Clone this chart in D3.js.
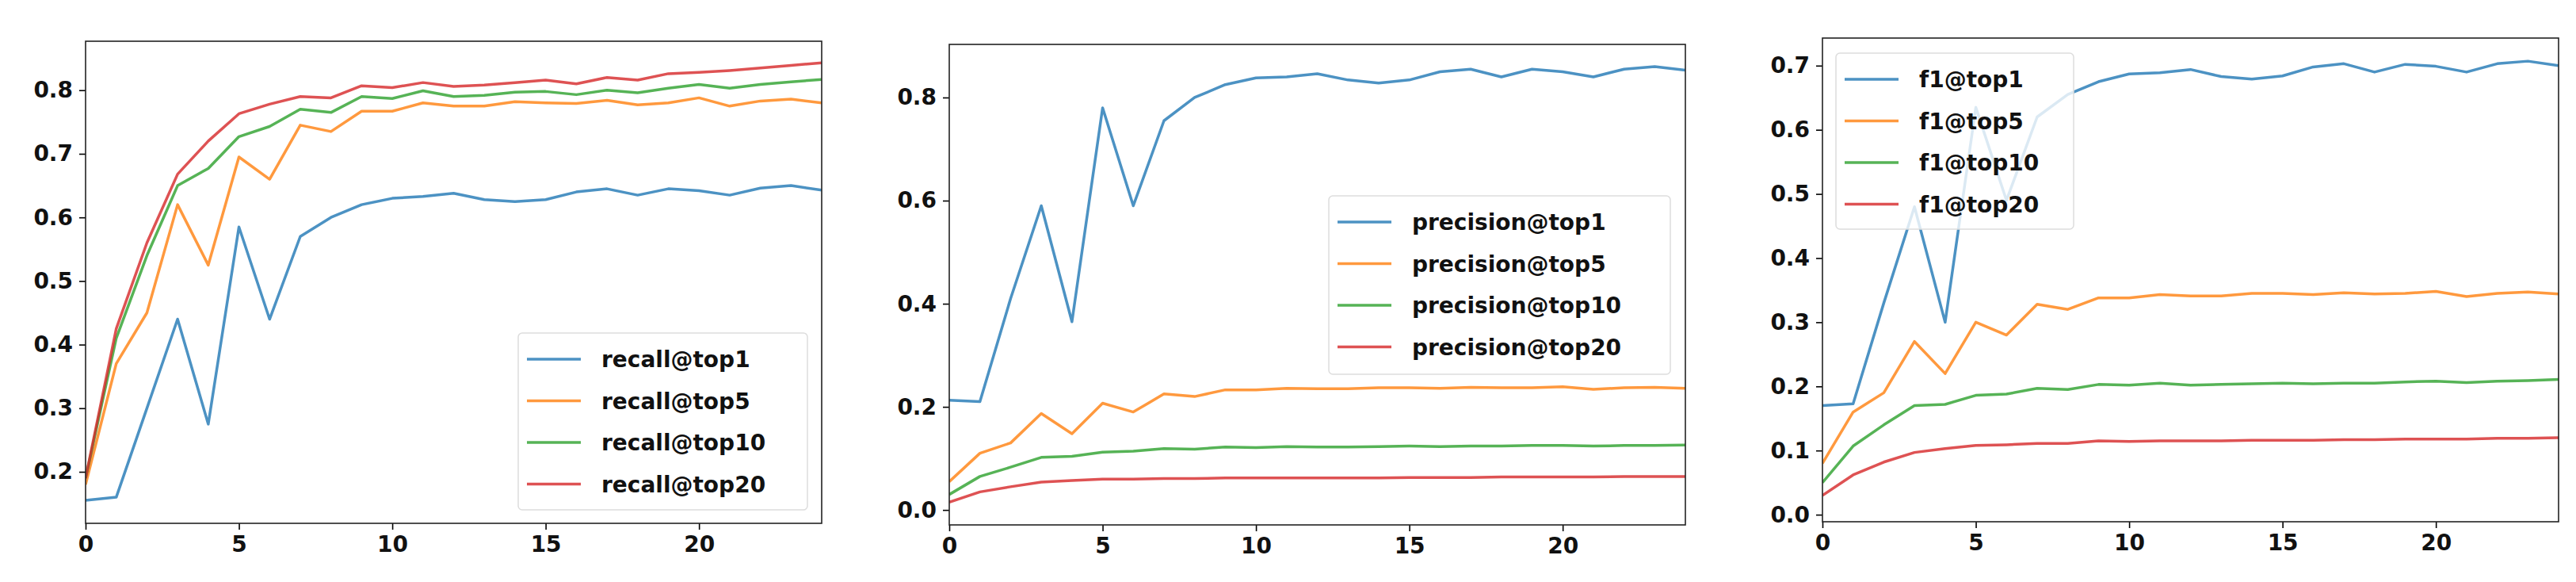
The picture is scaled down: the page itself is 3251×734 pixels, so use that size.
<!DOCTYPE html>
<html>
<head>
<meta charset="utf-8">
<script src="https://cdn.jsdelivr.net/npm/d3@7"></script>
<style>
  body { margin: 0; background: #fff; }
  text { font-family: "DejaVu Sans", sans-serif; font-weight: bold; }
</style>
</head>
<body>
<div id="chart"></div>
<script>
// epochs 0..24
var epochs = d3.range(25);
var seriesNames = ["top1", "top5", "top10", "top20"];
var colors = ["#1f77b4", "#ff7f0e", "#2ca02c", "#d62728"];

var recallTop1  = [0.155,0.16,0.30,0.44,0.275,0.585,0.44,0.57,0.60,0.62,0.63,0.633,0.638,0.628,0.625,0.628,0.64,0.645,0.635,0.645,0.642,0.635,0.646,0.65,0.643];
var recallTop5  = [0.18,0.37,0.45,0.62,0.525,0.695,0.66,0.745,0.735,0.767,0.767,0.78,0.775,0.775,0.782,0.78,0.779,0.784,0.777,0.78,0.788,0.775,0.783,0.786,0.78];
var recallTop10 = [0.19,0.41,0.54,0.65,0.677,0.727,0.743,0.77,0.765,0.79,0.787,0.799,0.79,0.792,0.797,0.798,0.793,0.8,0.796,0.803,0.809,0.803,0.809,0.813,0.817];
var recallTop20 = [0.19,0.425,0.56,0.668,0.72,0.763,0.778,0.79,0.788,0.807,0.804,0.812,0.806,0.808,0.812,0.816,0.81,0.82,0.816,0.826,0.828,0.831,0.835,0.839,0.843];

var precTop1  = [0.213,0.21,0.41,0.59,0.365,0.78,0.59,0.755,0.8,0.825,0.838,0.84,0.846,0.834,0.828,0.834,0.85,0.855,0.84,0.855,0.85,0.84,0.855,0.86,0.853];
var precTop5  = [0.055,0.11,0.13,0.187,0.148,0.207,0.19,0.225,0.22,0.233,0.233,0.236,0.235,0.235,0.237,0.237,0.236,0.238,0.237,0.237,0.239,0.234,0.237,0.238,0.236];
var precTop10 = [0.03,0.065,0.083,0.102,0.104,0.112,0.114,0.119,0.118,0.122,0.121,0.123,0.122,0.122,0.123,0.124,0.123,0.124,0.124,0.125,0.125,0.124,0.125,0.125,0.126];
var precTop20 = [0.015,0.035,0.045,0.054,0.057,0.06,0.06,0.061,0.061,0.062,0.062,0.062,0.062,0.062,0.062,0.063,0.063,0.063,0.064,0.064,0.064,0.064,0.065,0.065,0.065];

var f1Top1  = [0.17,0.173,0.33,0.48,0.30,0.635,0.49,0.62,0.655,0.675,0.687,0.689,0.694,0.683,0.679,0.684,0.698,0.703,0.69,0.702,0.699,0.69,0.703,0.707,0.70];
var f1Top5  = [0.08,0.16,0.19,0.27,0.22,0.30,0.28,0.328,0.32,0.338,0.338,0.343,0.341,0.341,0.345,0.345,0.343,0.346,0.344,0.345,0.348,0.34,0.345,0.347,0.344];
var f1Top10 = [0.05,0.107,0.14,0.17,0.172,0.186,0.188,0.197,0.195,0.203,0.202,0.205,0.202,0.203,0.204,0.205,0.204,0.205,0.205,0.207,0.208,0.206,0.208,0.209,0.211];
var f1Top20 = [0.03,0.062,0.082,0.097,0.103,0.108,0.109,0.111,0.111,0.115,0.114,0.115,0.115,0.115,0.116,0.116,0.116,0.117,0.117,0.118,0.118,0.118,0.119,0.119,0.12];

var xTicks = [0, 5, 10, 15, 20];

var W = 3251, H = 734;
var svg = d3.select("#chart").append("svg").attr("width", W).attr("height", H);

var panels = [
  {prefix: "recall", data: [recallTop1, recallTop5, recallTop10, recallTop20],
   x0: 108, x1: 1037, y0: 52, y1: 660, ydom: [0.119, 0.877], yticks: [0.2,0.3,0.4,0.5,0.6,0.7,0.8],
   fmt: d3.format(".1f"), legend: [654, 420, 365, 223]},
  {prefix: "precision", data: [precTop1, precTop5, precTop10, precTop20],
   x0: 1198, x1: 2127, y0: 56, y1: 662, ydom: [-0.029, 0.903], yticks: [0,0.2,0.4,0.6,0.8],
   fmt: d3.format(".1f"), legend: [1677, 247, 431, 225]},
  {prefix: "f1", data: [f1Top1, f1Top5, f1Top10, f1Top20],
   x0: 2300, x1: 3229, y0: 48, y1: 658, ydom: [-0.011, 0.743], yticks: [0,0.1,0.2,0.3,0.4,0.5,0.6,0.7],
   fmt: d3.format(".1f"), legend: [2317, 67, 300, 222]}
];

panels.forEach(function(p) {
  var x = d3.scaleLinear().domain([0, 24]).range([p.x0, p.x1]);
  var y = d3.scaleLinear().domain(p.ydom).range([p.y1, p.y0]);
  var g = svg.append("g");

  var line = d3.line().x(function(d, i) { return x(epochs[i]); }).y(function(d) { return y(d); });
  g.append("clipPath").attr("id", "clip-" + p.prefix)
    .append("rect").attr("x", p.x0).attr("y", p.y0).attr("width", p.x1 - p.x0).attr("height", p.y1 - p.y0);

  p.data.forEach(function(s, i) {
    g.append("path").datum(s)
      .attr("clip-path", "url(#clip-" + p.prefix + ")")
      .attr("d", line).attr("fill", "none")
      .attr("stroke", colors[i]).attr("stroke-opacity", 0.8)
      .attr("stroke-width", 3.5).attr("stroke-linejoin", "round");
  });

  var xa = g.append("g").attr("transform", "translate(0," + p.y1 + ")")
    .call(d3.axisBottom(x).tickValues(xTicks).tickSize(8).tickPadding(8));
  var ya = g.append("g").attr("transform", "translate(" + p.x0 + ",0)")
    .call(d3.axisLeft(y).tickValues(p.yticks).tickFormat(p.fmt).tickSize(8).tickPadding(8));
  [xa, ya].forEach(function(a) {
    a.select(".domain").remove();
    a.selectAll("line").attr("stroke", "#000").attr("stroke-width", 1.6);
    a.selectAll("text").attr("font-size", 28).attr("fill", "#111")
      .style("font-family", "DejaVu Sans").style("font-weight", "bold");
  });

  g.append("rect").attr("x", p.x0).attr("y", p.y0)
    .attr("width", p.x1 - p.x0).attr("height", p.y1 - p.y0)
    .attr("fill", "none").attr("stroke", "#222").attr("stroke-width", 1.6);

  // legend
  var L = p.legend;
  g.append("rect").attr("x", L[0]).attr("y", L[1]).attr("width", L[2]).attr("height", L[3])
    .attr("rx", 5).attr("fill", "#fff").attr("fill-opacity", 0.8)
    .attr("stroke", "#ddd").attr("stroke-width", 1.5);
  seriesNames.forEach(function(n, i) {
    var cy = L[1] + 33 + i * 52.5;
    g.append("line").attr("x1", L[0] + 11).attr("x2", L[0] + 79)
      .attr("y1", cy).attr("y2", cy)
      .attr("stroke", colors[i]).attr("stroke-opacity", 0.8).attr("stroke-width", 3.5);
    g.append("text").attr("x", L[0] + 105).attr("y", cy + 10)
      .attr("font-size", 28).attr("fill", "#111").text(p.prefix + "@" + n);
  });
});
</script>
</body>
</html>
